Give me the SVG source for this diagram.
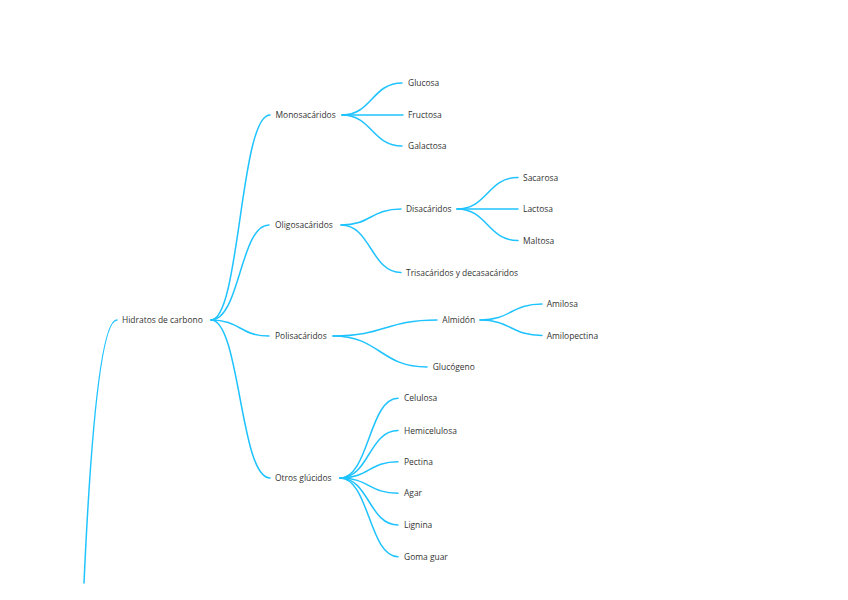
<svg xmlns="http://www.w3.org/2000/svg" width="848" height="600" viewBox="0 0 848 600">
<style>
.c{fill:none;stroke:#1fc3ff;stroke-width:1.5;stroke-linecap:round}
text{font-family:"Open Sans","Noto Sans",sans-serif;font-size:8.45px;fill:#333}
</style>
<rect width="848" height="600" fill="#fff"/>
<g id="connectors">
<path class="c" d="M84,583 C90,450 100,320 117,320"/>
<path class="c" d="M211,320 C240,320 240,115 270,115"/>
<path class="c" d="M211,320 C240,320 240,225 269,225"/>
<path class="c" d="M211,320 C240,320 240,336 269,336"/>
<path class="c" d="M211,320 C240,320 240,478 270,478"/>
<path class="c" d="M342,115 C372,115 372,83 402,83"/>
<path class="c" d="M342,115 L403,115"/>
<path class="c" d="M342,115 C372,115 372,146 402,146"/>
<path class="c" d="M341,225 C371,225 371,209 401,209"/>
<path class="c" d="M341,225 C371,225 371,272.5 401,272.5"/>
<path class="c" d="M457,209 C487.5,209 487.5,177.5 518,177.5"/>
<path class="c" d="M457,209 L518,209"/>
<path class="c" d="M457,209 C487.5,209 487.5,240.5 518,240.5"/>
<path class="c" d="M333,336 C385,336 385,320 437,320"/>
<path class="c" d="M333,336 C380,336 380,367 427,367"/>
<path class="c" d="M480,320 C511,320 511,304 542,304"/>
<path class="c" d="M480,320 C511,320 511,335.5 542,335.5"/>
<path class="c" d="M340,478 C369,478 369,398.3 398,398.3"/>
<path class="c" d="M340,478 C369,478 369,430.5 398,430.5"/>
<path class="c" d="M340,478 C369,478 369,461.8 398,461.8"/>
<path class="c" d="M340,478 C369,478 369,493.3 398,493.3"/>
<path class="c" d="M340,478 C369,478 369,525 398,525"/>
<path class="c" d="M340,478 C369,478 369,556.7 398,556.7"/>
</g>
<g id="n-hidratos"><text x="122" y="323">Hidratos de carbono</text></g>
<g id="n-mono"><text x="275.5" y="118">Monosacáridos</text></g>
<g id="n-glucosa"><text x="408" y="86.3">Glucosa</text></g>
<g id="n-fructosa"><text x="408" y="118">Fructosa</text></g>
<g id="n-galactosa"><text x="408" y="149">Galactosa</text></g>
<g id="n-oligo"><text x="275" y="228">Oligosacáridos</text></g>
<g id="n-disac"><text x="406" y="212.3">Disacáridos</text></g>
<g id="n-sacarosa"><text x="523" y="180.5">Sacarosa</text></g>
<g id="n-lactosa"><text x="523" y="212.3">Lactosa</text></g>
<g id="n-maltosa"><text x="523" y="243.5">Maltosa</text></g>
<g id="n-tris"><text x="406" y="275.5">Trisacáridos y decasacáridos</text></g>
<g id="n-poli"><text x="275" y="339">Polisacáridos</text></g>
<g id="n-almidon"><text x="442.3" y="323">Almidón</text></g>
<g id="n-amilosa"><text x="546.7" y="307">Amilosa</text></g>
<g id="n-amilopectina"><text x="546.7" y="338.5">Amilopectina</text></g>
<g id="n-glucogeno"><text x="432.7" y="370.3">Glucógeno</text></g>
<g id="n-otros"><text x="275" y="481">Otros glúcidos</text></g>
<g id="n-celulosa"><text x="404" y="401.3">Celulosa</text></g>
<g id="n-hemicelulosa"><text x="404" y="433.5">Hemicelulosa</text></g>
<g id="n-pectina"><text x="404" y="464.8">Pectina</text></g>
<g id="n-agar"><text x="404" y="496.3">Agar</text></g>
<g id="n-lignina"><text x="404" y="528">Lignina</text></g>
<g id="n-goma"><text x="404" y="559.7">Goma guar</text></g>
</svg>
